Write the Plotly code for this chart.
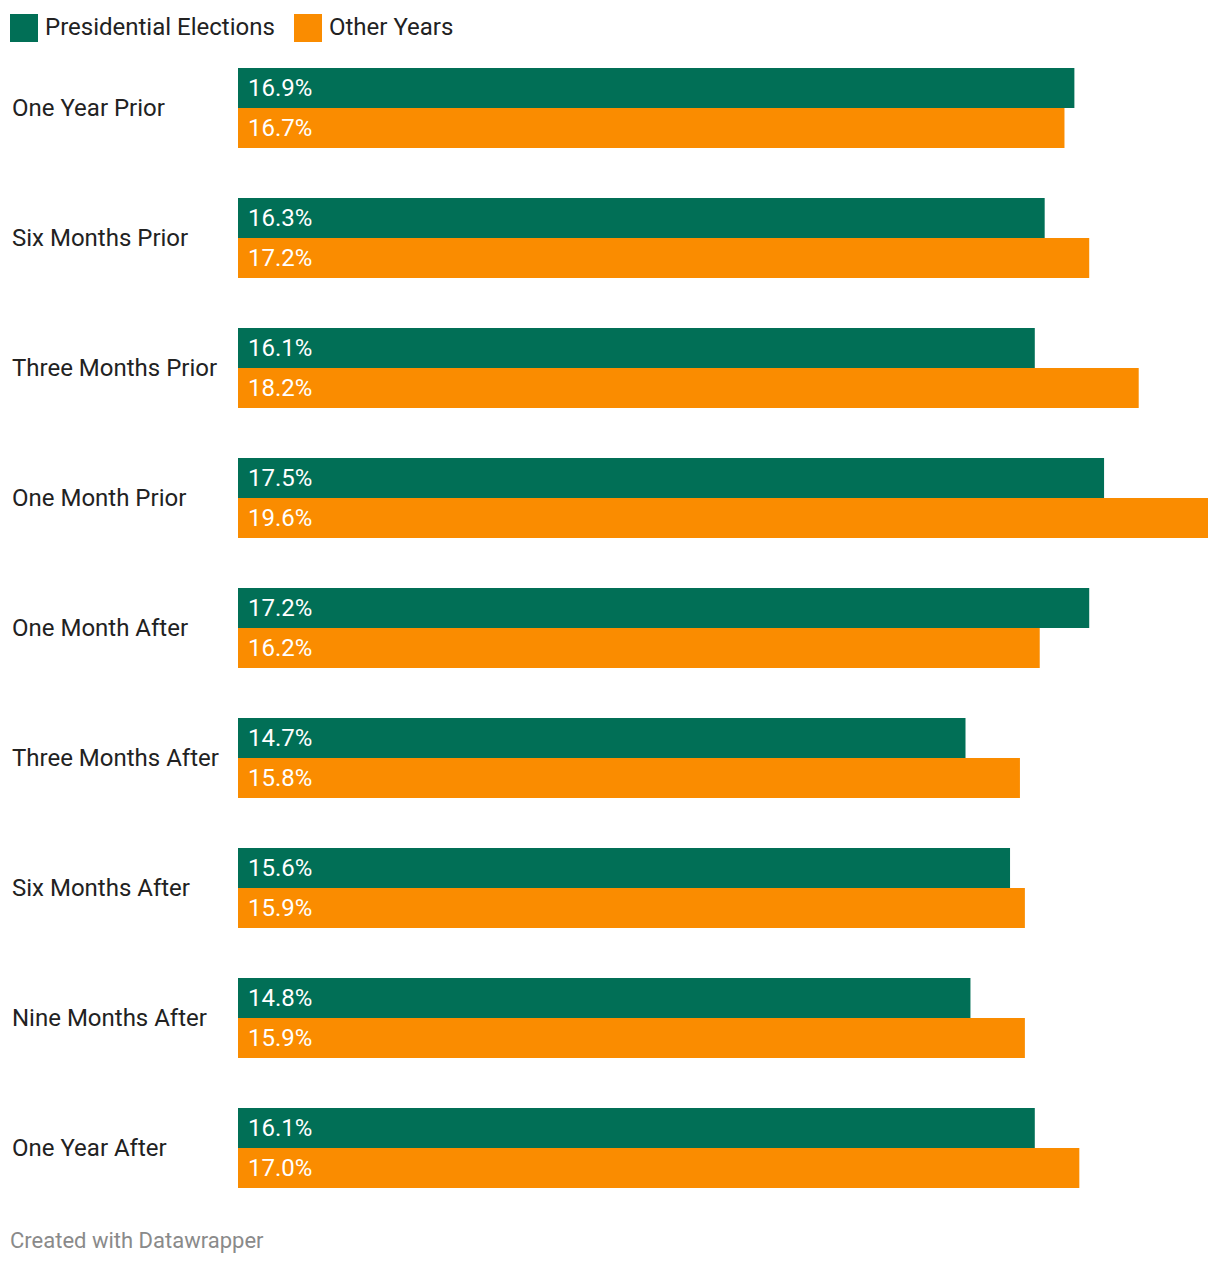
import plotly.graph_objects as go

categories = ["One Year Prior", "Six Months Prior", "Three Months Prior", "One Month Prior",
              "One Month After", "Three Months After", "Six Months After", "Nine Months After",
              "One Year After"]
presidential = [16.9, 16.3, 16.1, 17.5, 17.2, 14.7, 15.6, 14.8, 16.1]
other_years = [16.7, 17.2, 18.2, 19.6, 16.2, 15.8, 15.9, 15.9, 17.0]
series_names = ["Presidential Elections", "Other Years"]
colors = ["#016f56", "#fa8c00"]

W, H = 1220, 1266
L, R, T, B = 238, 12, 43, 53
PW, PH = W - L - R, H - T - B
FONT = "Roboto"

def px_x(px):
    return (px - L) / PW

def px_y(py):
    return (H - B - py) / PH

fig = go.Figure()
for name, vals, col in zip(series_names, [presidential, other_years], colors):
    fig.add_trace(go.Bar(y=categories, x=vals, orientation="h", name=name,
                         marker=dict(color=col, line=dict(width=0)), showlegend=False,
                         hoverinfo="skip"))

annotations = []
for i, cat in enumerate(categories):
    annotations.append(dict(x=0, y=cat, xref="x", yref="y", text=cat, xanchor="left",
                            xshift=-(L - 10), showarrow=False,
                            font=dict(family=FONT, size=24, color="#222222")))
    for vals, ys in [(presidential, 20), (other_years, -20)]:
        annotations.append(dict(x=0, y=cat, xref="x", yref="y", text=f"{vals[i]:.1f}%",
                                xanchor="left", xshift=8, yshift=ys, showarrow=False,
                                font=dict(family=FONT, size=24, color="#ffffff")))

# custom legend
shapes = []
leg = [(10, 45), (294, 329)]
for (sx, tx), name, col in zip(leg, series_names, colors):
    shapes.append(dict(type="rect", xref="paper", yref="paper", x0=px_x(sx), x1=px_x(sx + 28),
                       y0=px_y(42), y1=px_y(14), fillcolor=col, line=dict(width=0)))
    annotations.append(dict(xref="paper", yref="paper", x=px_x(tx - 2), y=px_y(27), text=name,
                            xanchor="left", yanchor="middle", showarrow=False,
                            font=dict(family=FONT, size=24, color="#222222")))

annotations.append(dict(xref="paper", yref="paper", x=px_x(8), y=px_y(1240),
                        text="Created with Datawrapper", xanchor="left", yanchor="middle",
                        showarrow=False, font=dict(family=FONT, size=22, color="#8a8a8a")))

fig.update_layout(
    width=W, height=H, margin=dict(l=L, r=R, t=T, b=B, pad=0),
    paper_bgcolor="white", plot_bgcolor="white",
    barmode="group", bargap=50 / 130, bargroupgap=0,
    xaxis=dict(range=[0, 19.6], visible=False, fixedrange=True),
    yaxis=dict(type="category", autorange="reversed", showticklabels=False,
               showgrid=False, zeroline=False, showline=False, ticks="", fixedrange=True),
    annotations=annotations, shapes=shapes,
    font=dict(family=FONT),
)

fig.write_html("out.html", config={"displayModeBar": False},
               post_script="document.body.style.margin='0';")
